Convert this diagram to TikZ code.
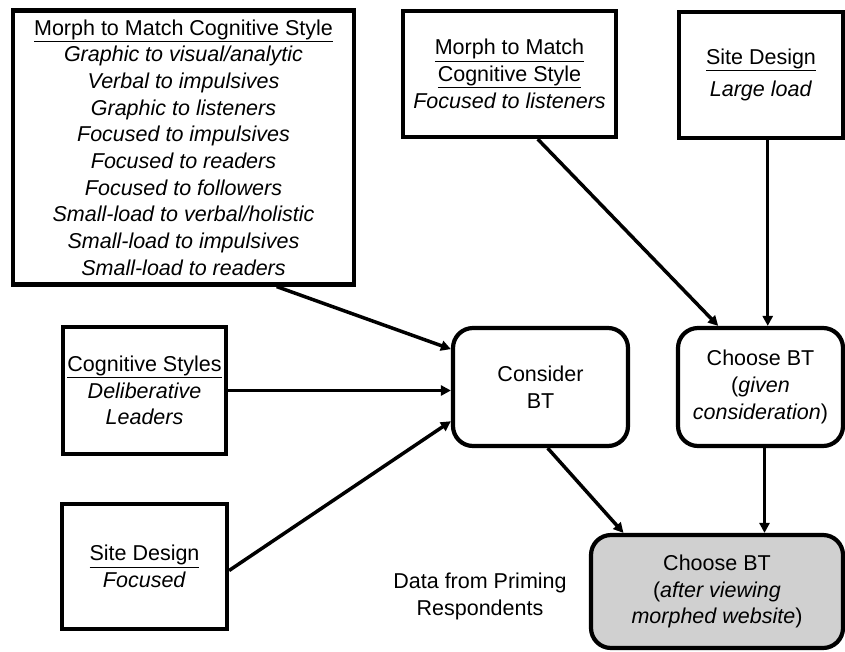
\documentclass[tikz,border=0pt]{standalone}
\usepackage{fontspec}
\setmainfont{Liberation Sans}
\usetikzlibrary{arrows.meta,calc}
\definecolor{boxgray}{HTML}{D0D0D0}
\tikzset{
  txt/.style={font=\fontsize{21.5}{26.7}\selectfont, align=center, inner sep=0pt},
  sqbox/.style={txt, draw, line width=4.2pt, rectangle},
  rbox/.style={txt, draw, line width=4.2pt, rectangle, rounded corners=20pt},
  arr/.style={line width=3.5pt, -{Triangle[length=10pt,width=10pt]}},
}
\begin{document}
\begin{tikzpicture}[x=1pt,y=-1pt]
\useasboundingbox (0,0) rectangle (845,651);

% input boxes
\node[sqbox, minimum width=341pt, minimum height=274pt] (big) at (183.5,147.5)
  {\underline{Morph to Match Cognitive Style}\\
   \textit{Graphic to visual/analytic}\\
   \textit{Verbal to impulsives}\\
   \textit{Graphic to listeners}\\
   \textit{Focused to impulsives}\\
   \textit{Focused to readers}\\
   \textit{Focused to followers}\\
   \textit{Small-load to verbal/holistic}\\
   \textit{Small-load to impulsives}\\
   \textit{Small-load to readers}};

\node[sqbox, minimum width=213pt, minimum height=126pt] (mfl) at (509.5,74)
  {\underline{Morph to Match}\\ \underline{Cognitive Style}\\ \textit{Focused to listeners}};

\node[sqbox, minimum width=164pt, minimum height=126pt] (sdl) at (761,75)
  {\underline{Site Design}\\[6pt] \textit{Large load}};

\node[sqbox, minimum width=163pt, minimum height=127pt] (cog) at (144.5,390.5)
  {\underline{Cognitive Styles}\\ \textit{Deliberative}\\ \textit{Leaders}};

\node[sqbox, minimum width=165pt, minimum height=125pt] (sdf) at (144.5,566.5)
  {\underline{Site Design}\\ \textit{Focused}};

% decision boxes
\node[rbox, minimum width=175pt, minimum height=118pt] (cbt) at (540.5,387)
  {Consider\\ BT};

\node[rbox, minimum width=165pt, minimum height=118pt] (cbg) at (760.5,387)
  {Choose BT\\ (\textit{given}\\ \textit{consideration})};

\node[rbox, fill=boxgray, minimum width=252pt, minimum height=113pt] (cba) at (717,591.5)
  {Choose BT\\ (\textit{after viewing}\\ \textit{morphed website})};

\node[txt] (data) at (480,596.5) {Data from Priming\\ Respondents};

% connectors into Consider BT
\draw[arr] ($(big.south west)!0.77!(big.south east)$) --
           ($(cbt.north west)!0.19!(cbt.south west)$);
\draw[arr] (cog.east) -- (cog.east -| cbt.west);
\draw[arr] ($(sdf.east)+(0,4)$) --
           ($(cbt.north west)!0.78!(cbt.south west)$);

% connectors into Choose BT (given consideration)
\draw[arr] ($(mfl.south west)!0.63!(mfl.south east)$) --
           ($(cbg.north west)!0.25!(cbg.north east)$);
\coordinate (sdlout) at ($(sdl.south west)!0.54!(sdl.south east)$);
\draw[arr] (sdlout) -- (sdlout |- cbg.north);

% connectors into Choose BT (after viewing)
\draw[arr] ($(cbt.south west)!0.54!(cbt.south east)$) --
           ($(cba.north west)!0.135!(cba.north east)$);
\coordinate (cbgout) at ($(cbg.south)+(4,0)$);
\draw[arr] (cbgout) -- (cbgout |- cba.north);
\end{tikzpicture}
\end{document}
